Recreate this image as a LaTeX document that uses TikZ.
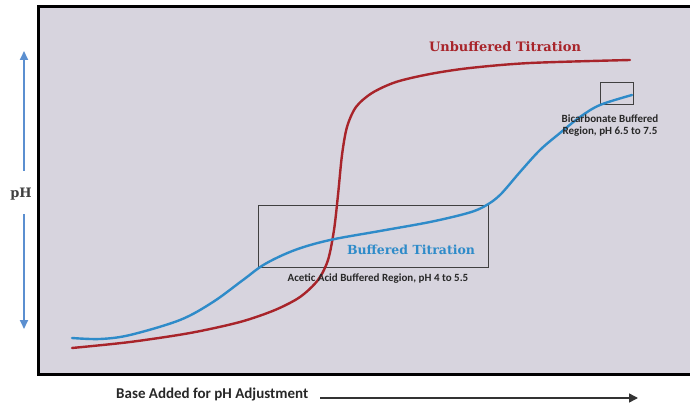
\documentclass[tikz,border=0pt]{standalone}
\usepackage{fontspec}
\setmainfont{DejaVu Serif}
\newfontfamily\calib{Carlito}
\usetikzlibrary{arrows.meta}

\definecolor{panelfill}{RGB}{215,212,222}
\definecolor{redcurve}{RGB}{168,36,42}
\definecolor{bluecurve}{RGB}{46,139,201}
\definecolor{pharrow}{RGB}{91,143,208}
\definecolor{labelgray}{RGB}{40,40,40}

\begin{document}
\begin{tikzpicture}[x=1pt,y=-1pt,
    curve/.style={line width=2.4pt,line cap=round},
    region/.style={draw=black!75,line width=1pt},
    smalllabel/.style={font=\calib\bfseries\fontsize{11}{12}\selectfont,text=labelgray,align=center,inner sep=0pt}]
        \useasboundingbox (0,0) rectangle (690,406);

        % panel
        \fill[white] (0,0) rectangle (690,406);
        \draw[fill=panelfill,line width=3pt] (38,6.5) rectangle (702,374.5);

        % buffered regions
        \draw[region] (258,205) rectangle (488,267);
        \draw[region] (600,83) rectangle (633,105);

        % unbuffered curve
        \draw[curve,redcurve] plot[smooth,tension=0.5] coordinates {(72,348) (130,342) (190,333) (240,322) (275,310) (300,297) (318,280) (328,260) (334,230) (338,195) (342,155) (347,127) (356,107) (372,93) (396,82) (430,74) (470,68) (530,63) (630,60)};

        % buffered curve
        \draw[curve,bluecurve] plot[smooth,tension=0.55] coordinates {(72,338) (100,339) (130,335) (180,320) (213,302) (243,280) (265,264) (295,250) (330,240) (380,231) (430,222) (468,213) (485,206) (500,195) (520,172) (540,150) (560,133) (580,117) (600,105) (632,95)};

        % labels
        \node[text=redcurve,font=\bfseries\fontsize{13}{15}\selectfont] (unbuf) at (505,47) {Unbuffered Titration};
        \node[text=bluecurve,font=\bfseries\fontsize{12.5}{15}\selectfont] (buf) at (411,250) {Buffered Titration};
        \node[smalllabel] (acetic) at (378,279) {Acetic Acid Buffered Region, pH 4 to 5.5};
        \node[smalllabel] (bicarb) at (610,126) {Bicarbonate Buffered\\Region, pH 6.5 to 7.5};

        % axes
        \node[font=\bfseries\fontsize{13}{15}\selectfont,text=black!75,inner sep=0pt] (ph) at (21,194) {pH};
        \coordinate (phtop) at (24,51);
        \coordinate (phbot) at (24,329);
        \draw[-{Triangle[length=9pt,width=8pt]},pharrow,line width=2pt] ([xshift=3pt,yshift=17pt]ph.north) -- (phtop);
        \draw[-{Triangle[length=9pt,width=8pt]},pharrow,line width=2pt] ([xshift=3pt,yshift=-14pt]ph.south) -- (phbot);

        \node[font=\calib\bfseries\fontsize{15}{17}\selectfont,text=labelgray,anchor=west,inner sep=0pt] (base) at (116,395) {Base Added for pH Adjustment};
        \coordinate (baseend) at (638,398);
        \draw[-{Triangle[length=9pt,width=9pt]},black!80,line width=1.5pt] ([xshift=12pt]base.east |- baseend) -- (baseend);
\end{tikzpicture}
\end{document}
